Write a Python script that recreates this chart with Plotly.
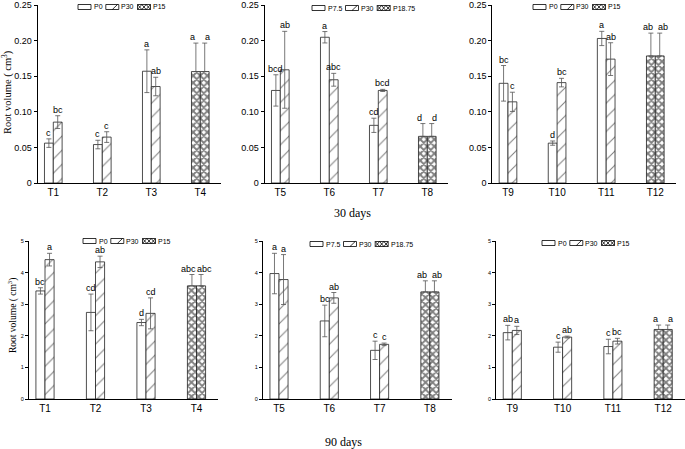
import plotly.graph_objects as go

W, H = 685, 449

# ---------------- data ----------------
cats_a = ["T1", "T2", "T3", "T4"]
cats_b = ["T5", "T6", "T7", "T8"]
cats_c = ["T9", "T10", "T11", "T12"]
names_ac = ["P0", "P30", "P15"]
names_b = ["P7.5", "P30", "P18.75"]

# 30 days
d30a_left = [0.056, 0.054, 0.157]
d30a_left_err = [0.006, 0.006, 0.030]
d30a_right = [0.0855, 0.0645, 0.1355]
d30a_right_err = [0.009, 0.0075, 0.013]
d30a_mix = 0.1565
d30a_mix_err = 0.040
d30a_left_lab = ["c", "c", "a"]
d30a_right_lab = ["bc", "c", "ab"]
d30a_mix_lab = ["a", "a"]

d30b_left = [0.130, 0.2047, 0.081]
d30b_left_err = [0.022, 0.008, 0.010]
d30b_right = [0.159, 0.145, 0.130]
d30b_right_err = [0.054, 0.009, 0.0015]
d30b_mix = 0.0655
d30b_mix_err = 0.018
d30b_left_lab = ["bcd", "a", "cd"]
d30b_right_lab = ["ab", "abc", "bcd"]
d30b_mix_lab = ["d", "d"]

d30c_left = [0.140, 0.056, 0.203]
d30c_left_err = [0.025, 0.003, 0.010]
d30c_right = [0.114, 0.141, 0.174]
d30c_right_err = [0.0135, 0.006, 0.023]
d30c_mix = 0.1785
d30c_mix_err = 0.032
d30c_left_lab = ["bc", "d", "a"]
d30c_right_lab = ["c", "bc", "ab"]
d30c_mix_lab = ["ab", "ab"]

# 90 days
d90a_left = [3.42, 2.74, 2.42]
d90a_left_err = [0.10, 0.58, 0.10]
d90a_right = [4.41, 4.34, 2.71]
d90a_right_err = [0.20, 0.18, 0.49]
d90a_mix = 3.58
d90a_mix_err = 0.36
d90a_left_lab = ["bc", "cd", "d"]
d90a_right_lab = ["a", "ab", "cd"]
d90a_mix_lab = ["abc", "abc"]

d90b_left = [3.97, 2.47, 1.54]
d90b_left_err = [0.64, 0.50, 0.29]
d90b_right = [3.78, 3.20, 1.73]
d90b_right_err = [0.79, 0.17, 0.04]
d90b_mix = 3.39
d90b_mix_err = 0.35
d90b_left_lab = ["a", "bc", "c"]
d90b_right_lab = ["a", "ab", "c"]
d90b_mix_lab = ["ab", "ab"]

d90c_left = [2.10, 1.64, 1.66]
d90c_left_err = [0.23, 0.16, 0.23]
d90c_right = [2.17, 1.96, 1.83]
d90c_right_err = [0.13, 0.03, 0.09]
d90c_mix = 2.20
d90c_mix_err = 0.14
d90c_left_lab = ["ab", "c", "c"]
d90c_right_lab = ["a", "ab", "bc"]
d90c_mix_lab = ["a", "a"]

ticks_30 = [0, 0.05, 0.10, 0.15, 0.20, 0.25]
ticktext_30 = ["0", "0.05", "0.10", "0.15", "0.20", "0.25"]
ticks_90 = [0, 1, 2, 3, 4, 5]
ticktext_90 = ["0", "1", "2", "3", "4", "5"]

# ---------------- layout helpers ----------------
def px(x):
    return x / W

def py(y):
    return 1 - y / H

SANS = "Liberation Sans, Arial, sans-serif"
SERIF = "Liberation Serif, Times New Roman, serif"

BW = 0.18
XR = [-0.32, 3.43]

panels = [
    dict(cats=cats_a, names=names_ac, L=d30a_left, Le=d30a_left_err, R=d30a_right, Re=d30a_right_err,
         M=d30a_mix, Me=d30a_mix_err, Ll=d30a_left_lab, Rl=d30a_right_lab, Ml=d30a_mix_lab,
         cx=53.3, sp=49.0, row=0, leg=(78, 7)),
    dict(cats=cats_b, names=names_b, L=d30b_left, Le=d30b_left_err, R=d30b_right, Re=d30b_right_err,
         M=d30b_mix, Me=d30b_mix_err, Ll=d30b_left_lab, Rl=d30b_right_lab, Ml=d30b_mix_lab,
         cx=280.3, sp=49.0, row=0, leg=(312, 8)),
    dict(cats=cats_c, names=names_ac, L=d30c_left, Le=d30c_left_err, R=d30c_right, Re=d30c_right_err,
         M=d30c_mix, Me=d30c_mix_err, Ll=d30c_left_lab, Rl=d30c_right_lab, Ml=d30c_mix_lab,
         cx=508.0, sp=49.1, row=0, leg=(533, 7)),
    dict(cats=cats_a, names=names_ac, L=d90a_left, Le=d90a_left_err, R=d90a_right, Re=d90a_right_err,
         M=d90a_mix, Me=d90a_mix_err, Ll=d90a_left_lab, Rl=d90a_right_lab, Ml=d90a_mix_lab,
         cx=45.0, sp=50.5, row=1, leg=(83, 241)),
    dict(cats=cats_b, names=names_b, L=d90b_left, Le=d90b_left_err, R=d90b_right, Re=d90b_right_err,
         M=d90b_mix, Me=d90b_mix_err, Ll=d90b_left_lab, Rl=d90b_right_lab, Ml=d90b_mix_lab,
         cx=279.0, sp=50.3, row=1, leg=(310, 244)),
    dict(cats=cats_c, names=names_ac, L=d90c_left, Le=d90c_left_err, R=d90c_right, Re=d90c_right_err,
         M=d90c_mix, Me=d90c_mix_err, Ll=d90c_left_lab, Rl=d90c_right_lab, Ml=d90c_mix_lab,
         cx=512.3, sp=50.3, row=1, leg=(542, 243)),
]

fig = go.Figure()
annotations = []
shapes = []

OUT = dict(color="#222222", width=0.8)
ERRC = "#555555"
LETTER_FONT = dict(family=SANS, size=9, color="black")

for i, p in enumerate(panels):
    n = i + 1
    xa = "x" if n == 1 else f"x{n}"
    ya = "y" if n == 1 else f"y{n}"
    cats = p["cats"]
    fig.add_trace(go.Bar(
        x=cats[:3], y=p["L"], xaxis=xa, yaxis=ya, name=p["names"][0],
        offset=-BW, width=BW, showlegend=False,
        marker=dict(color="white", line=OUT),
        error_y=dict(type="data", array=p["Le"], color=ERRC, thickness=0.8, width=2.5),
    ))
    fig.add_trace(go.Bar(
        x=cats[:3], y=p["R"], xaxis=xa, yaxis=ya, name=p["names"][1],
        offset=0, width=BW, showlegend=False,
        marker=dict(color="white", line=OUT,
                    pattern=dict(shape="/", size=10, solidity=0.1, fgcolor="black", bgcolor="white")),
        error_y=dict(type="data", array=p["Re"], color=ERRC, thickness=0.8, width=2.5),
    ))
    fig.add_trace(go.Bar(
        x=[cats[3], cats[3]], y=[p["M"], p["M"]], xaxis=xa, yaxis=ya, name=p["names"][2],
        offset=[-BW, 0], width=BW, showlegend=False,
        marker=dict(color="white", line=OUT,
                    pattern=dict(shape="x", size=5, solidity=0.6, fgcolor="black", bgcolor="white")),
        error_y=dict(type="data", symmetric=False, array=[p["Me"], p["Me"]], arrayminus=[0, 0],
                     color=ERRC, thickness=0.8, width=2.5),
    ))

    for k in range(3):
        annotations.append(dict(x=k - BW / 2, y=p["L"][k] + p["Le"][k], xref=xa, yref=ya,
                                text=p["Ll"][k], showarrow=False, xanchor="center", yanchor="bottom",
                                borderpad=0, font=LETTER_FONT))
        annotations.append(dict(x=k + BW / 2, y=p["R"][k] + p["Re"][k], xref=xa, yref=ya,
                                text=p["Rl"][k], showarrow=False, xanchor="center", yanchor="bottom",
                                borderpad=0, font=LETTER_FONT))
    for j, off in enumerate([-BW / 2, BW / 2]):
        annotations.append(dict(x=3 + off, y=p["M"] + p["Me"], xref=xa, yref=ya,
                                text=p["Ml"][j], showarrow=False, xanchor="center", yanchor="bottom",
                                xshift=(-3 if j == 0 else 3), borderpad=0, font=LETTER_FONT))

    left = p["cx"] - 0.32 * p["sp"]
    right = p["cx"] + 3.43 * p["sp"]
    if p["row"] == 0:
        ydom = [py(183), py(5)]
        yr = [0, 0.25]
        tv, tt, tfs = ticks_30, ticktext_30, 9
    else:
        ydom = [py(399), py(241)]
        yr = [0, 5]
        tv, tt, tfs = ticks_90, ticktext_90, 5.5
    fig.layout[f"xaxis{'' if n == 1 else n}"] = dict(
        domain=[px(left), px(right)], anchor=ya, type="category", categoryarray=cats,
        range=XR, showline=True, linecolor="black", linewidth=1, ticks="", automargin=False,
        showgrid=False, zeroline=False, tickfont=dict(family=SANS, size=10, color="black"),
    )
    fig.layout[f"yaxis{'' if n == 1 else n}"] = dict(
        domain=ydom, anchor=xa, range=yr, tickvals=tv, ticktext=tt, showline=True,
        linecolor="black", linewidth=1, ticks="outside", ticklen=3, tickcolor="black",
        automargin=False, showgrid=False, zeroline=False,
        tickfont=dict(family=SANS, size=tfs, color="black"),
    )

    # hand-drawn legend (small flat swatches as in the original)
    lx, lyc = p["leg"]
    sw, sh = 13, 5
    for j, nm in enumerate(p["names"]):
        x0, x1 = lx, lx + sw
        y0, y1 = lyc - sh / 2, lyc + sh / 2
        shapes.append(dict(type="rect", xref="paper", yref="paper", x0=px(x0), x1=px(x1),
                           y0=py(y1), y1=py(y0), fillcolor="white", line=dict(color="black", width=0.8)))
        if j == 1:
            shapes.append(dict(type="line", xref="paper", yref="paper",
                               x0=px(x0 + sw * 0.5), y0=py(y1), x1=px(x0 + sw * 0.9), y1=py(y0),
                               line=dict(color="black", width=0.8)))
        if j == 2:
            path = ""
            seg = sw / 3
            for q in range(3):
                a = x0 + q * seg
                b = a + seg
                path += f"M{px(a)},{py(y0)} L{px(b)},{py(y1)} M{px(a)},{py(y1)} L{px(b)},{py(y0)} "
            shapes.append(dict(type="path", xref="paper", yref="paper", path=path,
                               line=dict(color="black", width=0.8)))
        annotations.append(dict(x=px(x1 + 1.5), y=py(lyc), xref="paper", yref="paper",
                                text=nm, showarrow=False, xanchor="left", yanchor="middle",
                                borderpad=0, font=dict(family=SANS, size=7, color="black")))
        tw = sum(1.8 if ch == "." else 3.9 for ch in nm)
        lx = x1 + 2 + tw + 5

annotations.append(dict(x=px(353), y=py(213), xref="paper", yref="paper", text="30 days",
                        showarrow=False, xanchor="center", yanchor="middle",
                        font=dict(family=SERIF, size=12, color="black")))
annotations.append(dict(x=px(343), y=py(442), xref="paper", yref="paper", text="90 days",
                        showarrow=False, xanchor="center", yanchor="middle",
                        font=dict(family=SERIF, size=12, color="black")))
annotations.append(dict(x=px(7), y=py(92), xref="paper", yref="paper",
                        text="Root volume ( cm<sup>3</sup>)", textangle=-90, showarrow=False,
                        xanchor="center", yanchor="middle",
                        font=dict(family=SERIF, size=10.5, color="black")))
annotations.append(dict(x=px(12), y=py(316), xref="paper", yref="paper",
                        text="Root volume ( cm<sup>3</sup>)", textangle=-90, showarrow=False,
                        xanchor="center", yanchor="middle",
                        font=dict(family=SERIF, size=9.5, color="black")))

fig.update_layout(
    width=W, height=H, autosize=False,
    margin=dict(l=0, r=0, t=0, b=0),
    paper_bgcolor="white", plot_bgcolor="white",
    barmode="overlay", showlegend=False,
    annotations=annotations, shapes=shapes,
)

fig.write_html("out.html", config={"displayModeBar": False},
               post_script="document.body.style.margin='0';document.body.style.overflow='hidden';")
